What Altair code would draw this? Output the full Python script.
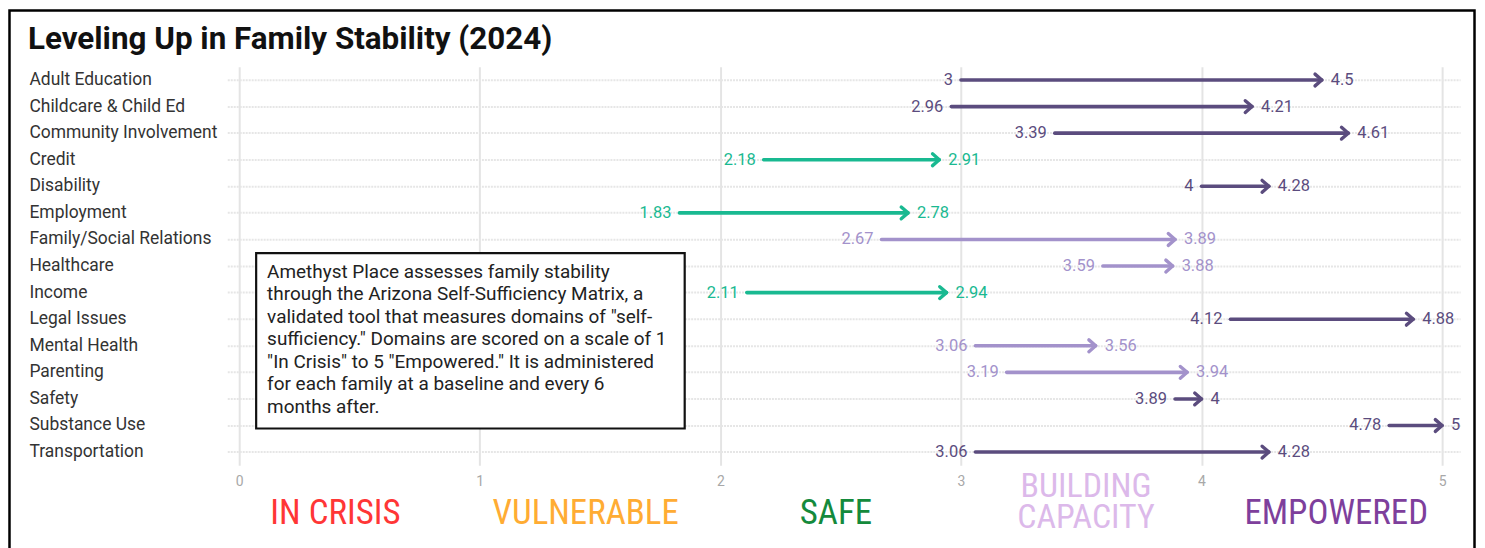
import altair as alt
import pandas as pd

chart_title = "Leveling Up in Family Stability (2024)"

domains = ["Adult Education", "Childcare & Child Ed", "Community Involvement", "Credit",
           "Disability", "Employment", "Family/Social Relations", "Healthcare", "Income",
           "Legal Issues", "Mental Health", "Parenting", "Safety", "Substance Use",
           "Transportation"]
baseline_scores = [3, 2.96, 3.39, 2.18, 4, 1.83, 2.67, 3.59, 2.11, 4.12, 3.06, 3.19, 3.89, 4.78, 3.06]
latest_scores = [4.5, 4.21, 4.61, 2.91, 4.28, 2.78, 3.89, 3.88, 2.94, 4.88, 3.56, 3.94, 4, 5, 4.28]

level_names = ["IN CRISIS", "VULNERABLE", "SAFE", "BUILDING CAPACITY", "EMPOWERED"]
level_pos = [0.40, 1.44, 2.48, 3.52, 4.56]
level_colors = ["#ff3636", "#ffac33", "#148a3c", "#dcb9ea", "#7e3f9c"]

tick_values = [0, 1, 2, 3, 4, 5]

note_lines = [
    "Amethyst Place assesses family stability",
    "through the Arizona Self-Sufficiency Matrix, a",
    "validated tool that measures domains of \"self-",
    "sufficiency.\" Domains are scored on a scale of 1",
    "\"In Crisis\" to 5 \"Empowered.\" It is administered",
    "for each family at a baseline and every 6",
    "months after.",
]


def group_of(v):
    if v < 3:
        return "low"
    if v < 4:
        return "mid"
    return "high"


df = pd.DataFrame({
    "domain": domains,
    "start": baseline_scores,
    "end": latest_scores,
})
df["group"] = [group_of(v) for v in latest_scores]
df["start_label"] = [f"{v:g}" for v in baseline_scores]
df["end_label"] = [f"{v:g}" for v in latest_scores]

color_scale = alt.Scale(domain=["low", "mid", "high"], range=["#19b991", "#a392cb", "#5b4c7e"])
color = alt.Color("group:N", scale=color_scale, legend=None)

x_scale = alt.Scale(domain=[-0.0497, 5.0746], nice=False, zero=False)
x_axis = alt.Axis(values=tick_values, title=None, domain=False, ticks=False, grid=True,
                  gridColor="#e4e4e4", gridWidth=2, labelColor="#a8a8a8", labelFontSize=14,
                  labelFont="Roboto", labelPadding=9, format="d")
y_axis = alt.Axis(title=None, domain=False, ticks=False, tickSize=0, grid=True,
                  gridColor="#e6e6e6", gridWidth=2, gridDash=[2, 1], labelAlign="left",
                  labelPadding=199, labelFont="Roboto", labelFontSize=17.5, labelColor="#333333",
                  labelLimit=0)

base = alt.Chart(df)

lines = base.mark_rule(strokeWidth=3.6, strokeCap="round").encode(
    x=alt.X("start:Q", scale=x_scale, axis=x_axis),
    x2="end:Q",
    y=alt.Y("domain:N", sort=domains, axis=y_axis),
    color=color,
)

heads = base.mark_point(shape="M-1.15,-1L0,0L-1.15,1", size=140, filled=False, strokeWidth=3.4,
                        strokeCap="round", strokeJoin="round", opacity=1).encode(
    x="end:Q",
    y=alt.Y("domain:N", sort=domains),
    color=color,
)

start_text = base.mark_text(align="right", baseline="middle", dx=-8, fontSize=16.5,
                            font="Roboto").encode(
    x="start:Q",
    y=alt.Y("domain:N", sort=domains),
    text="start_label:N",
    color=color,
)

end_text = base.mark_text(align="left", baseline="middle", dx=9, fontSize=16.5,
                          font="Roboto").encode(
    x="end:Q",
    y=alt.Y("domain:N", sort=domains),
    text="end_label:N",
    color=color,
)

one = pd.DataFrame({"k": [0]})

note_box = alt.Chart(one).mark_rect(fill="white", stroke="#111111", strokeWidth=2.2).encode(
    x=alt.value(29), x2=alt.value(459), y=alt.value(187), y2=alt.value(363)
)
note_text = alt.Chart(one).mark_text(text=note_lines, align="left", baseline="middle",
                                     fontSize=19, lineHeight=22.5, font="Roboto",
                                     color="#222222").encode(
    x=alt.value(40), y=alt.value(206)
)

levels = pd.DataFrame({"name": level_names, "pos": level_pos, "col": level_colors})
levels["lines"] = [n.split(" ") if n == "BUILDING CAPACITY" else [n] for n in level_names]
level_font = "Liberation Sans Narrow, Roboto Condensed, DejaVu Sans Condensed, sans-serif"

level_single = alt.Chart(levels).transform_filter(
    alt.datum.name != "BUILDING CAPACITY"
).mark_text(align="center", baseline="middle", fontSize=35, font=level_font).encode(
    x="pos:Q",
    y=alt.value(448),
    text="name:N",
    color=alt.Color("col:N", scale=None),
)
level_double = alt.Chart(levels).transform_filter(
    alt.datum.name == "BUILDING CAPACITY"
).mark_text(align="center", baseline="middle", fontSize=34, lineHeight=30.5,
            font=level_font).encode(
    x="pos:Q",
    y=alt.value(422),
    text="lines",
    color=alt.Color("col:N", scale=None),
)

title_text = alt.Chart(one).mark_text(text=chart_title, align="left", baseline="alphabetic",
                                      fontSize=31.5, fontWeight="bold", font="Roboto",
                                      color="#111111").encode(
    x=alt.value(-200), y=alt.value(-18)
)

border = alt.Chart(one).mark_rect(fill=None, stroke="#000000", strokeWidth=2.5).encode(
    x=alt.value(-218.5), x2=alt.value(1251.5), y=alt.value(-56.5), y2=alt.value(600)
)

chart = alt.layer(
    border, lines, heads, start_text, end_text, note_box, note_text, level_single,
    level_double, title_text
).properties(
    width=1237,
    height=400,
    background="white",
    autosize=alt.AutoSizeParams(type="none"),
    padding={"left": 220, "top": 58, "right": 17, "bottom": 82},
).configure_view(stroke=None)

chart.save("out.html", embed_options={"renderer": "svg", "actions": False})
